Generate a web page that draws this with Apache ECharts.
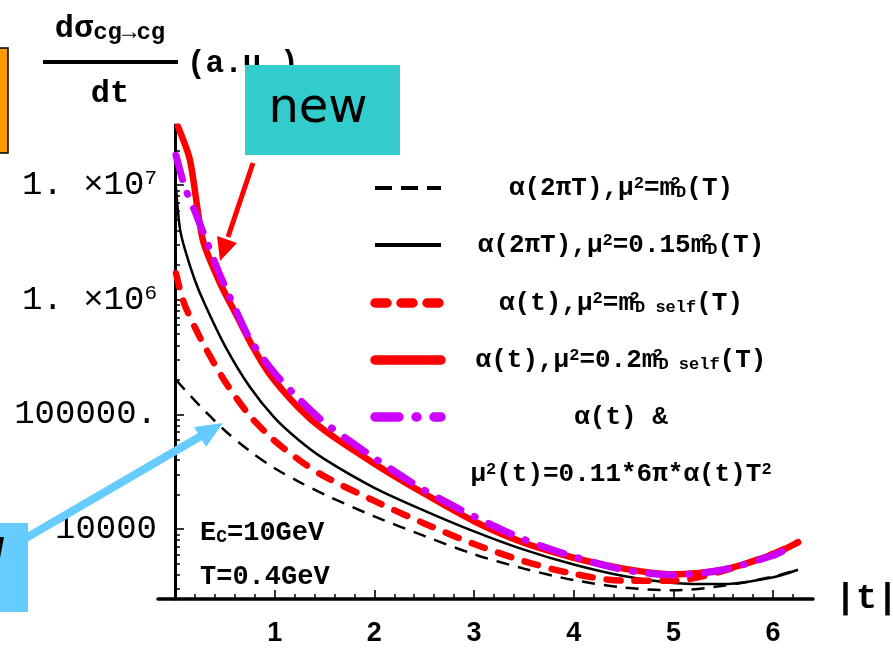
<!DOCTYPE html>
<html><head><meta charset="utf-8">
<script src="https://cdn.jsdelivr.net/npm/echarts@6/dist/echarts.min.js"></script>
<style>html,body{margin:0;padding:0;background:#fff}#c{width:893px;height:648px}</style>
</head><body><div id="c"></div>
<script>
// ---- data ----
const tBlackDashed = [0.01, 0.1, 0.2, 0.3, 0.5, 0.75, 1, 1.25, 1.5, 2, 2.5, 3, 3.5, 4, 4.5, 5, 5.5, 6, 6.25];
const vBlackDashed = [2.0e5, 1.64e5, 1.32e5, 1.07e5, 7.24e4, 4.79e4, 3.39e4, 2.57e4, 2.0e4, 1.29e4, 8710, 6030, 4520, 3590, 3090, 2920, 3200, 3850, 4420];

const tBlackSolid = [0.01, 0.05, 0.1, 0.2, 0.3, 0.5, 0.75, 1, 1.25, 1.5, 2, 2.5, 3, 3.5, 4, 4.5, 5, 5.5, 6, 6.25];
const vBlackSolid = [9.55e6, 4.17e6, 2.75e6, 1.48e6, 9.12e5, 3.98e5, 1.74e5, 9.33e4, 5.89e4, 4.07e4, 2.29e4, 1.45e4, 9550, 6610, 4900, 3890, 3390, 3310, 3800, 4420];

const tRedDashed = [0.01, 0.05, 0.1, 0.2, 0.3, 0.5, 0.75, 1, 1.25, 1.5, 2, 2.5, 3, 3.5, 4, 4.5, 5, 5.5, 6, 6.25];
const vRedDashed = [1.70e6, 1.23e6, 8.91e5, 5.75e5, 3.89e5, 1.95e5, 9.77e4, 5.89e4, 3.98e4, 2.88e4, 1.76e4, 1.12e4, 7410, 5250, 4070, 3550, 3550, 4320, 6100, 7670];

const tRedSolid = [0.03, 0.15, 0.28, 0.45, 0.62, 0.78, 0.95, 1.25, 1.5, 2, 2.5, 3, 3.5, 4, 4.5, 5, 5.5, 6, 6.25];
const vRedSolid = [3.24e7, 1.66e7, 3.31e6, 1.41e6, 7.24e5, 3.89e5, 2.24e5, 1.12e5, 7.24e4, 3.72e4, 2.04e4, 1.17e4, 7590, 5620, 4520, 4030, 4420, 6030, 7670];

const tPurple = [0.01, 0.1, 0.2, 0.3, 0.45, 0.6, 0.75, 1, 1.25, 1.5, 2, 2.5, 3, 3.5, 4, 4.5, 5, 5.5, 6, 6.1];
const vPurple = [1.82e7, 9.55e6, 5.89e6, 3.55e6, 1.66e6, 8.51e5, 4.57e5, 2.29e5, 1.35e5, 8.51e4, 4.17e4, 2.19e4, 1.29e4, 8130, 5750, 4420, 3980, 4420, 5890, 6460];

const xTickValues = [1, 2, 3, 4, 5, 6];
const xMinorTickValues = [0.2, 0.4, 0.6, 0.8, 1.2, 1.4, 1.6, 1.8, 2.2, 2.4, 2.6, 2.8, 3.2, 3.4, 3.6, 3.8, 4.2, 4.4, 4.6, 4.8, 5.2, 5.4, 5.6, 5.8, 6.2];
const yTickValues = [1e4, 1e5, 1e6, 1e7];
const yTickLabels = ['10000', '100000.', '1. ×10{sup|6}', '1. ×10{sup|7}'];
const yMinorTickValues = [3000, 4000, 5000, 6000, 7000, 8000, 9000,
  20000, 30000, 40000, 50000, 60000, 70000, 80000, 90000,
  2e5, 3e5, 4e5, 5e5, 6e5, 7e5, 8e5, 9e5,
  2e6, 3e6, 4e6, 5e6, 6e6, 7e6, 8e6, 9e6, 2e7, 3e7];

const legendLabels = [
  'α(2πT),μ{sup|2}=m{sups|2}{sub|D}(T)',
  'α(2πT),μ{sup|2}=0.15m{sups|2}{sub|D}(T)',
  'α(t),μ{sup|2}=m{sups|2}{sub|D self}(T)',
  'α(t),μ{sup|2}=0.2m{sups|2}{sub|D self}(T)',
  'α(t) &',
  'μ{sup|2}(t)=0.11*6π*α(t)T{sup|2}'
];

// ---- chart ----
const FM = '"Liberation Mono", "DejaVu Sans Mono", monospace';
const RED = '#ff0000', PURPLE = '#cc00ff';
function pairs(ts, vs) { return ts.map((t, i) => [t, vs[i]]); }

const chart = echarts.init(document.getElementById('c'), null, {renderer: 'canvas'});

const legendRich = {
  sup: {fontSize: 17, fontFamily: FM, fontWeight: 'bold', fill: '#000', verticalAlign: 'top'},
  sups: {fontSize: 17, fontFamily: FM, fontWeight: 'bold', fill: '#000', verticalAlign: 'top', width: 1},
  sub: {fontSize: 17, fontFamily: FM, fontWeight: 'bold', fill: '#000', verticalAlign: 'bottom'}
};
const legendRowsY = [188, 245, 303, 360, 417, 474];
const legendLineStyles = [
  {stroke: '#000', lineWidth: 4, lineDash: [17, 9], lineCap: 'butt'},
  {stroke: '#000', lineWidth: 4},
  {stroke: RED, lineWidth: 9.5, lineDash: [12, 14], lineCap: 'round'},
  {stroke: RED, lineWidth: 9.5, lineCap: 'round'},
  {stroke: PURPLE, lineWidth: 9.5, lineDash: [24, 17, 1, 17], lineCap: 'round'}
];
const graphics = [];
legendLineStyles.forEach((st, i) => {
  graphics.push({type: 'line', z: 50, shape: {x1: 375, y1: legendRowsY[i], x2: 441, y2: legendRowsY[i]}, style: st});
});
legendLabels.forEach((txt, i) => {
  graphics.push({type: 'text', z: 50, x: 621, y: legendRowsY[i], style: {
    text: txt, font: 'bold 26px ' + FM, fill: '#000',
    align: 'center', verticalAlign: 'middle', textAlign: 'center', textVerticalAlign: 'middle', rich: legendRich}});
});

// energy/temperature annotation
graphics.push({type: 'text', z: 50, x: 200, y: 533, style: {text: 'E{sub|C}=10GeV', font: 'bold 27px ' + FM, fill: '#000',
  align: 'left', verticalAlign: 'middle', textAlign: 'left', textVerticalAlign: 'middle',
  rich: {sub: {fontSize: 18, fontFamily: FM, fontWeight: 'bold', fill: '#000', verticalAlign: 'bottom'}}}});
graphics.push({type: 'text', z: 50, x: 200, y: 577, style: {text: 'T=0.4GeV', font: 'bold 27px ' + FM, fill: '#000',
  align: 'left', verticalAlign: 'middle', textAlign: 'left', textVerticalAlign: 'middle'}});

// y axis title (fraction)
graphics.push({type: 'text', z: 50, x: 110, y: 29, style: {text: 'dσ{sub|cg→cg}', font: 'bold 32px ' + FM, fill: '#000',
  align: 'center', verticalAlign: 'middle', textAlign: 'center', textVerticalAlign: 'middle',
  rich: {sub: {fontSize: 24, fontFamily: FM, fontWeight: 'bold', fill: '#000', verticalAlign: 'bottom'}}}});
graphics.push({type: 'rect', z: 50, shape: {x: 43, y: 60, width: 135, height: 4}, style: {fill: '#000'}});
graphics.push({type: 'text', z: 50, x: 110, y: 94, style: {text: 'dt', font: 'bold 32px ' + FM, fill: '#000',
  align: 'center', verticalAlign: 'middle', textAlign: 'center', textVerticalAlign: 'middle'}});
graphics.push({type: 'text', z: 50, x: 187, y: 64, style: {text: '(a.u.)', font: 'bold 31px ' + FM, fill: '#000',
  align: 'left', verticalAlign: 'middle', textAlign: 'left', textVerticalAlign: 'middle'}});

// "new" box and red arrow
graphics.push({type: 'rect', z: 60, shape: {x: 245, y: 65, width: 155, height: 90}, style: {fill: '#33cccc'}});
graphics.push({type: 'text', z: 61, x: 318, y: 110, style: {text: 'new', font: '48px "DejaVu Sans"', fill: '#000',
  align: 'center', verticalAlign: 'middle', textAlign: 'center', textVerticalAlign: 'middle'}});
graphics.push({type: 'line', z: 60, shape: {x1: 253, y1: 163, x2: 228, y2: 237}, style: {stroke: RED, lineWidth: 5}});
graphics.push({type: 'polygon', z: 60, shape: {points: [[220, 261], [237, 243], [217, 236]]}, style: {fill: RED}});

// orange box (cut at left edge)
graphics.push({type: 'rect', z: 60, shape: {x: -2, y: 48, width: 10, height: 105}, style: {fill: '#ff9900', stroke: '#000', lineWidth: 1.5}});

// blue box and arrow
graphics.push({type: 'rect', z: 60, shape: {x: 0, y: 523, width: 28, height: 89}, style: {fill: '#66ccff'}});
graphics.push({type: 'text', z: 61, x: -8, y: 560, style: {text: 'l', font: 'italic 44px "DejaVu Sans"', fill: '#000',
  align: 'left', verticalAlign: 'middle', textAlign: 'left', textVerticalAlign: 'middle'}});
graphics.push({type: 'line', z: 60, shape: {x1: 26, y1: 538, x2: 201, y2: 436}, style: {stroke: '#66ccff', lineWidth: 8}});
graphics.push({type: 'polygon', z: 60, shape: {points: [[223, 423], [206, 447], [194, 427]]}, style: {fill: '#66ccff'}});

function yLabel(v) {
  for (let i = 0; i < yTickValues.length; i++) {
    if (Math.abs(Math.log10(v) - Math.log10(yTickValues[i])) < 1e-6) return yTickLabels[i];
  }
  return '';
}

const option = {
  animation: false,
  backgroundColor: '#fff',
  grid: {left: 158, right: 80, top: 125, bottom: 49, containLabel: false, outerBoundsMode: 'none'},
  xAxis: [
    {type: 'value', min: -0.17, max: 6.4,
      axisLine: {onZero: false, lineStyle: {color: '#000', width: 3.5}},
      axisTick: {show: true, inside: true, length: 9, customValues: xTickValues, lineStyle: {color: '#000', width: 1.6}},
      axisLabel: {customValues: xTickValues, fontFamily: '"Liberation Sans", Arial, sans-serif', fontWeight: 'bold', fontSize: 27, color: '#000', margin: 21},
      splitLine: {show: false},
      name: '|t|', nameLocation: 'end', nameGap: 22,
      nameTextStyle: {fontFamily: FM, fontWeight: 'bold', fontSize: 35, color: '#000', align: 'left', verticalAlign: 'middle'}
    },
    {type: 'value', min: -0.17, max: 6.4, position: 'bottom',
      axisLine: {show: false, onZero: false},
      axisTick: {show: true, inside: true, length: 5, customValues: xMinorTickValues, lineStyle: {color: '#000', width: 1.5}},
      axisLabel: {show: false}, splitLine: {show: false}
    }
  ],
  yAxis: [
    {type: 'log', min: 2455, max: 3.34e7,
      axisLine: {onZero: true, onZeroAxisIndex: 0, lineStyle: {color: '#000', width: 3}},
      axisTick: {show: true, inside: true, length: 9, customValues: yTickValues, lineStyle: {color: '#000', width: 1.6}},
      axisLabel: {customValues: yTickValues, formatter: yLabel, fontFamily: FM, fontSize: 34, color: '#000', margin: 1,
        rich: {sup: {fontSize: 21, fontFamily: FM, color: '#000', verticalAlign: 'top'}}},
      splitLine: {show: false}
    },
    {type: 'log', min: 2455, max: 3.34e7, position: 'left',
      axisLine: {show: false, onZero: true, onZeroAxisIndex: 0},
      axisTick: {show: true, inside: true, length: 5, customValues: yMinorTickValues, lineStyle: {color: '#000', width: 1.5}},
      axisLabel: {show: false}, splitLine: {show: false}
    }
  ],
  series: [
    {type: 'line', name: 'bd', data: pairs(tBlackDashed, vBlackDashed), symbol: 'none', smooth: 0.3, z: 2,
      lineStyle: {color: '#000', width: 2.5, type: [13, 9]}},
    {type: 'line', name: 'bs', data: pairs(tBlackSolid, vBlackSolid), symbol: 'none', smooth: 0.3, z: 3,
      lineStyle: {color: '#000', width: 2.5}},
    {type: 'line', name: 'rd', data: pairs(tRedDashed, vRedDashed), symbol: 'none', smooth: 0.3, z: 4,
      lineStyle: {color: RED, width: 6.5, type: [14, 14], cap: 'round'}},
    {type: 'line', name: 'rs', data: pairs(tRedSolid, vRedSolid), symbol: 'none', smooth: 0.25, z: 5,
      lineStyle: {color: RED, width: 6.5, cap: 'round'}},
    {type: 'line', name: 'pu', data: pairs(tPurple, vPurple), symbol: 'none', smooth: 0.3, z: 6,
      lineStyle: {color: PURPLE, width: 7, type: [25, 15, 1, 15], cap: 'round'}}
  ],
  graphic: graphics
};
chart.setOption(option);
</script>
</body></html>
